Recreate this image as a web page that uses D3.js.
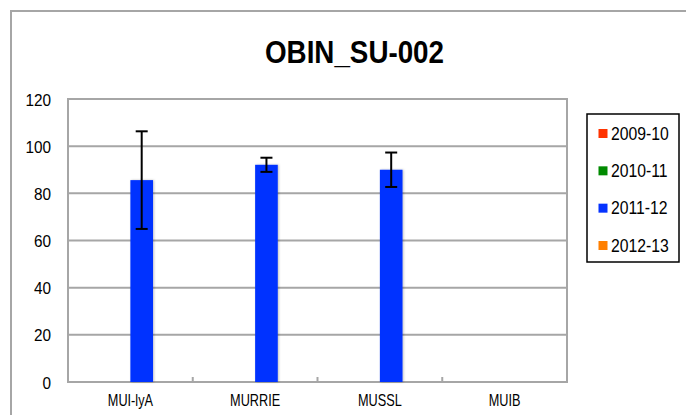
<!DOCTYPE html>
<html><head><meta charset="utf-8">
<script src="https://cdn.jsdelivr.net/npm/d3@7"></script>
<style>
html,body{margin:0;padding:0;background:#fff;}
svg{display:block;}
text{font-family:"Liberation Sans",Arial,sans-serif;fill:#000;}
</style></head>
<body>
<script>
const title = "OBIN_SU-002";
const categories = ["MUI-lyA", "MURRIE", "MUSSL", "MUIB"];
const seriesNames = ["2009-10", "2010-11", "2011-12", "2012-13"];
const seriesColors = ["#ff3300", "#008a00", "#0533ff", "#ff7f00"];
const values_2009_10 = [null, null, null, null];
const values_2010_11 = [null, null, null, null];
const values_2011_12 = [85.6, 92.1, 90.0, null];
const values_2012_13 = [null, null, null, null];
const errors_2011_12 = [20.7, 3.0, 7.3, null];
const errors_other = [null, null, null, null];
const yTicks = [0, 20, 40, 60, 80, 100, 120];

const seriesValues = [values_2009_10, values_2010_11, values_2011_12, values_2012_13];
const seriesErrors = [errors_other, errors_other, errors_2011_12, errors_other];

const W = 686, H = 415;
const svg = d3.select("body").append("svg").attr("width", W).attr("height", H);

// horizontally condense text (reference uses a narrow face)
function squeeze(sel, ratio) {
  sel.each(function() {
    const w = this.getComputedTextLength();
    d3.select(this).attr("textLength", w * ratio).attr("lengthAdjust", "spacingAndGlyphs");
  });
}

const defs = svg.append("defs");
const f = defs.append("filter").attr("id","shadow").attr("x","-20%").attr("y","-20%").attr("width","140%").attr("height","140%");
f.append("feDropShadow").attr("dx",1).attr("dy",0).attr("stdDeviation",1).attr("flood-color","#000").attr("flood-opacity",0.25);

// outer chart border
svg.append("rect").attr("x", 11).attr("y", 11).attr("width", 700).attr("height", 420)
  .attr("fill", "none").attr("stroke", "#a6a6a6").attr("stroke-width", 2);

const plot = {left: 68, right: 567, top: 99, bottom: 382};

const x0 = d3.scaleBand().domain(categories).range([plot.left, plot.right]).padding(0);
const gap = x0.bandwidth() * 0.137;
const x1 = d3.scaleBand().domain(seriesNames).range([gap, x0.bandwidth() - gap]).padding(0);
const y = d3.scaleLinear().domain([0, 120]).range([plot.bottom, plot.top]);

// gridlines
svg.append("g").selectAll("line").data(yTicks.filter(d => d > 0)).join("line")
  .attr("x1", plot.left).attr("x2", plot.right)
  .attr("y1", d => y(d)).attr("y2", d => y(d))
  .attr("stroke", "#a6a6a6").attr("stroke-width", 2);

// plot border
svg.append("rect").attr("x", plot.left).attr("y", plot.top)
  .attr("width", plot.right - plot.left).attr("height", plot.bottom - plot.top)
  .attr("fill", "none").attr("stroke", "#a6a6a6").attr("stroke-width", 2);

// y axis labels
const yAxis = d3.axisLeft(y).tickValues(yTicks).tickSize(0).tickPadding(17).tickFormat(d3.format("d"));
const gy = svg.append("g").attr("transform", `translate(${plot.left},0)`).call(yAxis);
gy.select(".domain").remove();
gy.selectAll("text").attr("font-size", 17).attr("font-family", null).attr("dy", "0.36em");
squeeze(gy.selectAll("text"), 0.9);

// x axis
const xAxis = d3.axisBottom(x0).tickSize(0).tickPadding(12);
const gx = svg.append("g").attr("transform", `translate(0,${plot.bottom})`).call(xAxis);
gx.select(".domain").remove();
gx.selectAll("text").attr("font-size", 16.5).attr("font-family", null);
squeeze(gx.selectAll("text"), 0.77);
// inside tick marks at category boundaries
svg.append("g").selectAll("line").data(categories.slice(1)).join("line")
  .attr("x1", d => x0(d)).attr("x2", d => x0(d))
  .attr("y1", plot.bottom - 5).attr("y2", plot.bottom)
  .attr("stroke", "#a6a6a6").attr("stroke-width", 2);

// bars
const barData = [];
seriesNames.forEach((s, si) => {
  categories.forEach((c, ci) => {
    const v = seriesValues[si][ci];
    if (v != null) barData.push({s, c, v, e: seriesErrors[si][ci], color: seriesColors[si]});
  });
});
svg.append("g").selectAll("rect").data(barData).join("rect")
  .attr("x", d => x0(d.c) + x1(d.s)).attr("width", x1.bandwidth())
  .attr("y", d => y(d.v)).attr("height", d => y(0) - y(d.v))
  .attr("fill", d => d.color).attr("filter", "url(#shadow)");

// error bars
const eg = svg.append("g").attr("stroke", "#000").attr("stroke-width", 2);
barData.filter(d => d.e != null).forEach(d => {
  const cx = x0(d.c) + x1(d.s) + x1.bandwidth() / 2;
  eg.append("line").attr("x1", cx).attr("x2", cx).attr("y1", y(d.v + d.e)).attr("y2", y(d.v - d.e));
  [d.v + d.e, d.v - d.e].forEach(v => {
    eg.append("line").attr("x1", cx - 6).attr("x2", cx + 6).attr("y1", y(v)).attr("y2", y(v));
  });
});

// title
svg.append("text").attr("x", 354.5).attr("y", 63).attr("text-anchor", "middle")
  .attr("font-size", 32).attr("font-weight", "bold")
  .attr("textLength", 179).attr("lengthAdjust", "spacingAndGlyphs").text(title);

// legend
const lg = svg.append("g");
lg.append("rect").attr("x", 587).attr("y", 114).attr("width", 92).attr("height", 148)
  .attr("fill", "#fff").attr("stroke", "#000").attr("stroke-width", 1.5);
const ly = d3.scalePoint().domain(seriesNames).range([133.5, 245.5]);
seriesNames.forEach((s, i) => {
  lg.append("rect").attr("x", 598.5).attr("y", ly(s) - 4.5).attr("width", 9).attr("height", 9).attr("fill", seriesColors[i]);
  lg.append("text").attr("x", 611).attr("y", ly(s)).attr("dy", "0.36em").attr("font-size", 17.5).text(s);
});
squeeze(lg.selectAll("text"), 0.9);
</script>
</body></html>
